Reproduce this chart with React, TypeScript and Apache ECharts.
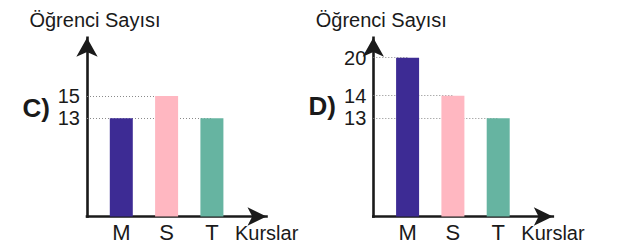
import React, { useEffect, useRef } from 'react';
import * as echarts from 'echarts';

// ---- data ----
const categories = ['M', 'S', 'T'];
const valuesC = [13, 15, 13];
const valuesD = [20, 14, 13];
const tickLabelsC = [13, 15];
const tickLabelsD = [13, 14, 20];
const barColors = ['#3d2b94', '#ffb7c1', '#66b4a1'];
const panelLabels = ['C)', 'D)'];
const yAxisName = 'Öğrenci Sayısı';
const xAxisName = 'Kurslar';

// ---- axis configuration (the drawing's y scale is broken, not linear) ----
const Y_MAX = [20.22, 20.88];
const Y_BREAKS = [
  [{ start: 1, end: 12, gap: 6.81 }],
  [
    { start: 1, end: 12, gap: 2.345 },
    { start: 14.5, end: 19.5, gap: 0.681 },
  ],
];
const X_MIN = 0.243;
const X_MAX = 4.205;

const FONT = "'Liberation Sans', Arial, Helvetica, sans-serif";
const AXIS_COLOR = '#1a1a1a';
const TEXT_COLOR = '#1a1a1a';

export default function App() {
  const ref = useRef<HTMLDivElement>(null);

  useEffect(() => {
    if (!ref.current) return;
    const chart = echarts.init(ref.current, null, { renderer: 'svg' });

    const panels = [
      { values: valuesC, ticks: tickLabelsC },
      { values: valuesD, ticks: tickLabelsD },
    ];

    const grids = [
      { left: 87, width: 179.5, top: 37.8, bottom: 31.5 },
      { left: 373.3, width: 179.5, top: 37.8, bottom: 31.5 },
    ];

    const axisLine = {
      show: true,
      onZero: false,
      breakLine: false,
      symbol: ['none', 'arrow'],
      lineStyle: { color: AXIS_COLOR, width: 2.6, cap: 'square' },
    };

    const xAxes = panels.map((_, gi) => ({
      type: 'value',
      gridIndex: gi,
      min: X_MIN,
      max: X_MAX,
      axisLine: { ...axisLine, symbolSize: [14, 19] },
      axisTick: { show: false },
      splitLine: { show: false },
      axisLabel: {
        customValues: categories.map((_, i) => i + 1),
        formatter: (v: number) => categories[Math.round(v) - 1] ?? '',
        fontSize: 22,
        color: TEXT_COLOR,
        fontFamily: FONT,
        margin: 5,
      },
      name: xAxisName,
      nameLocation: 'end',
      nameGap: -31.5,
      nameTextStyle: {
        align: 'left',
        verticalAlign: 'top',
        padding: [6, 0, 0, 0],
        fontSize: 20,
        color: TEXT_COLOR,
        fontFamily: FONT,
      },
    }));

    const yAxes = panels.map((p, gi) => ({
      type: 'value',
      gridIndex: gi,
      min: 0,
      max: Y_MAX[gi],
      breaks: Y_BREAKS[gi],
      breakArea: { show: false, itemStyle: { opacity: 0 } },
      axisLine: { ...axisLine, symbolSize: [16, 19] },
      axisTick: { show: false },
      splitLine: { show: false },
      axisLabel: {
        customValues: p.ticks,
        fontSize: 20,
        color: TEXT_COLOR,
        fontFamily: FONT,
        margin: 7,
      },
      name: yAxisName,
      nameLocation: 'end',
      nameGap: 18,
      nameTextStyle: {
        align: 'center',
        verticalAlign: 'middle',
        padding: [0, 0, 0, 16],
        fontSize: 20,
        color: TEXT_COLOR,
        fontFamily: FONT,
      },
    }));

    const series = panels.map((p, gi) => ({
      type: 'bar',
      xAxisIndex: gi,
      yAxisIndex: gi,
      barWidth: 23,
      z: 3,
      data: p.values.map((v, i) => ({
        value: [i + 1, v],
        itemStyle: { color: barColors[i] },
      })),
      markLine: {
        silent: true,
        z: 1,
        symbol: ['none', 'none'],
        label: { show: false },
        lineStyle: { type: [1, 2], color: '#8a8a8a', width: 1 },
        emphasis: { disabled: true },
        data: p.values.map((v, i) => [
          { coord: [X_MIN, v] },
          { coord: [i + 1, v] },
        ]),
      },
    }));

    const labelPos = [
      { x: 22.5, y: 108 },
      { x: 308.5, y: 106 },
    ];

    chart.setOption({
      animation: false,
      backgroundColor: '#ffffff',
      textStyle: { fontFamily: FONT },
      grid: grids,
      xAxis: xAxes,
      yAxis: yAxes,
      series,
      graphic: panelLabels.map((t, i) => ({
        type: 'text',
        x: labelPos[i].x,
        y: labelPos[i].y,
        style: {
          text: t,
          fontSize: 26,
          fontWeight: 'bold',
          fontFamily: FONT,
          fill: TEXT_COLOR,
          verticalAlign: 'middle',
        },
      })),
    });

    return () => chart.dispose();
  }, []);

  return (
    <div
      ref={ref}
      style={{ position: 'absolute', left: 0, top: 0, width: 619, height: 248 }}
    />
  );
}
